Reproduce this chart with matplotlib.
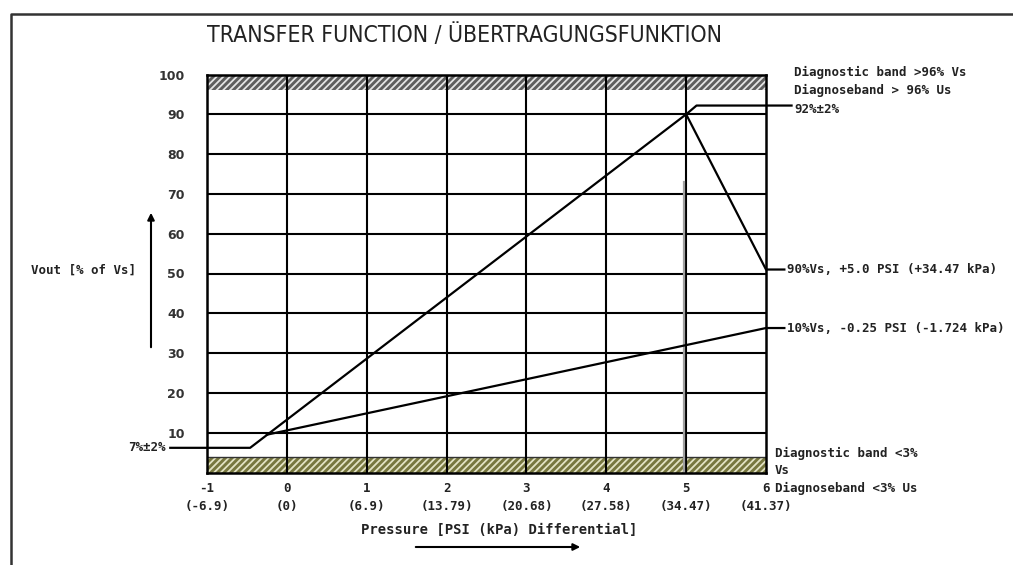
import matplotlib
matplotlib.use('Agg')
import matplotlib.pyplot as plt
from matplotlib.lines import Line2D

# axis values
psi_ticks = [-1, 0, 1, 2, 3, 4, 5, 6]
kpa_labels = ['(-6.9)', '(0)', '(6.9)', '(13.79)', '(20.68)', '(27.58)', '(34.47)', '(41.37)']
pct_ticks = [10, 20, 30, 40, 50, 60, 70, 80, 90, 100]

# transfer curves (psi, % of Vs), incl. their leader ends outside the grid
upper_psi = [-1.46, -0.46, 5.0, 6.0, 6.23]
upper_pct = [6.2, 6.2, 90.0, 51.0, 51.0]
lower_psi = [-0.25, 6.0, 6.23]
lower_pct = [9.5, 36.3, 36.3]
peak_psi = [5.0, 5.13, 6.32]
peak_pct = [90.0, 92.2, 92.2]

# diagnostic bands
band_high = (96, 100)
band_low = (0, 4)

MONO = ['DejaVu Sans Mono']
INK = '#222222'

fig = plt.figure(figsize=(10.13, 5.65), dpi=100)
ax = fig.add_axes([207 / 1013, 1 - 472.5 / 565, 559 / 1013, 398 / 565])
ax.set_xlim(-1, 6)
ax.set_ylim(0, 100)

# hatched bands
plt.rcParams['hatch.linewidth'] = 1.3
ax.axhspan(*band_high, facecolor='#5e5e5e', edgecolor='#e4e4e4', hatch='/////', lw=0, zorder=1)
ax.axhspan(*band_low, facecolor='#77773f', edgecolor='#e2e2c4', hatch='/////', lw=0, zorder=1)
ax.axhline(band_low[1], color='#333333', lw=1.0, zorder=2)

# grid
for v in pct_ticks[:-1]:
    ax.axhline(v, color='black', lw=1.5, zorder=2)
for p in psi_ticks[1:-1]:
    ax.axvline(p, color='black', lw=1.5, zorder=2)
ax.plot([4.97, 4.97], [0, 73], color='#a0a0a0', lw=1.6, zorder=2)

# curves
ax.plot(upper_psi, upper_pct, color='black', lw=1.6, clip_on=False, zorder=3)
ax.plot(lower_psi, lower_pct, color='black', lw=1.6, clip_on=False, zorder=3)
ax.plot(peak_psi, peak_pct, color='black', lw=1.6, clip_on=False, zorder=3)

for s in ax.spines.values():
    s.set_linewidth(1.8)
    s.set_zorder(4)

ax.set_yticks(pct_ticks)
ax.set_yticklabels([str(v) for v in pct_ticks], fontsize=9, fontweight='bold', color='#333333')
ax.set_xticks(psi_ticks)
ax.set_xticklabels([str(p) for p in psi_ticks], fontsize=9, fontweight='bold', family=MONO, color=INK)
ax.tick_params(axis='y', length=0, pad=16)
ax.tick_params(axis='x', length=0, pad=7)

# second row of x labels: kPa
for p, k in zip(psi_ticks, kpa_labels):
    ax.annotate(k, xy=(p, 0), xycoords=('data', 'axes fraction'), xytext=(0, -34),
                textcoords='offset pixels', ha='center', va='center', fontsize=9,
                fontweight='bold', family=MONO, color=INK)

# annotations
txt = dict(fontsize=9, fontweight='bold', family=MONO, color=INK, clip_on=False, va='center')
ax.text(6.35, 100.4, 'Diagnostic band >96% Vs', **txt)
ax.text(6.35, 96.1, 'Diagnoseband > 96% Us', **txt)
ax.text(6.35, 91.3, '92%±2%', **txt)
ax.text(6.26, 51.0, '90%Vs, +5.0 PSI (+34.47 kPa)', **txt)
ax.text(6.26, 36.3, '10%Vs, -0.25 PSI (-1.724 kPa)', **txt)
ax.text(6.11, 4.9, 'Diagnostic band <3%', **txt)
ax.text(6.11, 0.4, 'Vs', **txt)
ax.text(6.11, -4.1, 'Diagnoseband <3% Us', **txt)
ax.text(-1.52, 6.2, '7%±2%', ha='right', **txt)

fig.text(464 / 1013, 1 - 36 / 565, 'TRANSFER FUNCTION / ÜBERTRAGUNGSFUNKTION',
         fontsize=16.5, family=['DejaVu Sans'], stretch='condensed', color=INK,
         ha='center', va='center')
fig.text(83 / 1013, 1 - 270 / 565, 'Vout [% of Vs]', fontsize=9, fontweight='bold',
         family=MONO, color=INK, ha='center', va='center')
fig.text(499 / 1013, 1 - 530 / 565, 'Pressure [PSI (kPa) Differential]', fontsize=10,
         fontweight='bold', family=MONO, color=INK, ha='center', va='center')

# direction arrows
ax.annotate('', xy=(151 / 1013, 1 - 210 / 565), xytext=(151 / 1013, 1 - 350 / 565),
            xycoords='figure fraction', textcoords='figure fraction',
            arrowprops=dict(arrowstyle='-|>', color='black', lw=1.5, mutation_scale=10))
ax.annotate('', xy=(583 / 1013, 1 - 547 / 565), xytext=(413 / 1013, 1 - 547 / 565),
            xycoords='figure fraction', textcoords='figure fraction',
            arrowprops=dict(arrowstyle='-|>', color='black', lw=1.5, mutation_scale=10))

# outer frame (top and left only)
fig.add_artist(Line2D([11 / 1013, 11 / 1013, 1.0], [0.0, 1 - 14 / 565, 1 - 14 / 565],
                      transform=fig.transFigure, color='#333333', lw=1.8))

fig.savefig('out.png', dpi=100)
